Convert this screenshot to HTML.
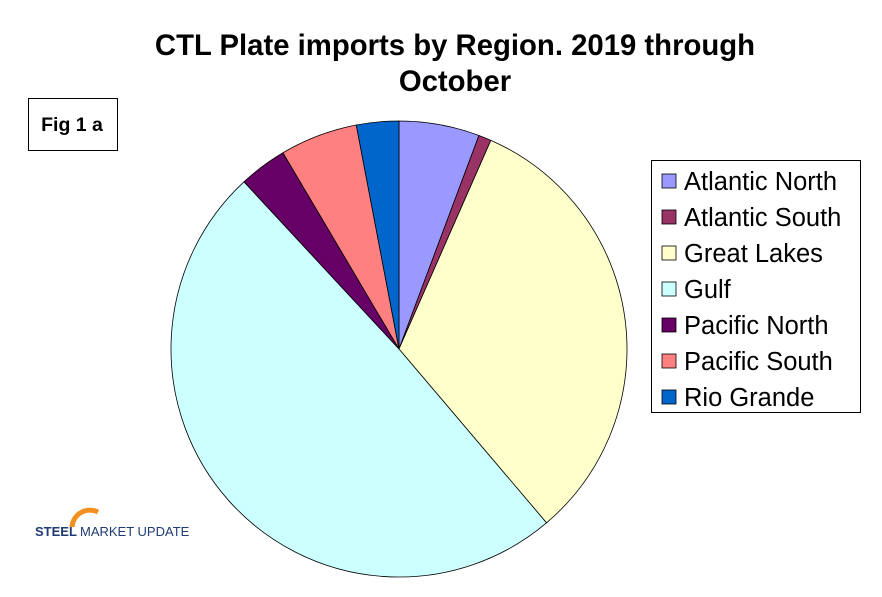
<!DOCTYPE html>
<html><head><meta charset="utf-8"><style>
body{margin:0;background:#fff;width:882px;height:592px;overflow:hidden;font-family:"Liberation Sans",Arial,sans-serif}
</style></head><body>
<svg width="882" height="592" viewBox="0 0 882 592">
<text x="455" y="55" text-anchor="middle" font-size="29.3" font-weight="bold">CTL Plate imports by Region. 2019 through</text>
<text x="455" y="91" text-anchor="middle" font-size="29.3" font-weight="bold">October</text>
<rect x="28.5" y="98.5" width="89" height="52" fill="#fff" stroke="#000"/>
<text x="72" y="131" text-anchor="middle" font-size="19.5" font-weight="bold">Fig 1 a</text>
<g id="pie"></g>
<rect x="651.5" y="160.5" width="209" height="252" fill="#fff" stroke="#000"/>
<g id="legend"></g>
<g>
<path d="M72 527 A18 18 0 0 1 98 512" fill="none" stroke="#f39020" stroke-width="5"/>
<text x="35" y="536" font-size="13" font-weight="bold" fill="#1f3b73">STEEL</text>
<text x="80" y="536" font-size="13" fill="#1f3b73">MARKET UPDATE</text>
</g>
</svg>
<script>
const categories=["Atlantic North","Atlantic South","Great Lakes","Gulf","Pacific North","Pacific South","Rio Grande"];
const values=[5.7,0.9,32.2,49.3,3.4,5.5,3.0];
const colors=["#9999ff","#993366","#ffffcc","#ccffff","#660066","#ff8080","#0066cc"];
const NS="http://www.w3.org/2000/svg";
const cx=399,cy=349,r=228;
const total=values.reduce((a,b)=>a+b,0);
const pie=document.getElementById('pie');
let a0=0;
function pt(a){return [cx+r*Math.sin(a),cy-r*Math.cos(a)];}
values.forEach((v,i)=>{
  const a1=a0+v/total*2*Math.PI;
  const p0=pt(a0),p1=pt(a1);
  const path=document.createElementNS(NS,'path');
  path.setAttribute('d',`M${cx},${cy} L${p0[0]},${p0[1]} A${r},${r} 0 ${a1-a0>Math.PI?1:0} 1 ${p1[0]},${p1[1]} Z`);
  path.setAttribute('fill',colors[i]);path.setAttribute('stroke','#000');path.setAttribute('stroke-width','0.8');
  
  
  pie.appendChild(path);
  a0=a1;
});
const leg=document.getElementById('legend');
categories.forEach((c,i)=>{
  const y=181+i*36;
  const g=document.createElementNS(NS,'g');
  
  
  const s=document.createElementNS(NS,'rect');
  s.setAttribute('x',662);s.setAttribute('y',y-7);s.setAttribute('width',14);s.setAttribute('height',14);
  s.setAttribute('fill',colors[i]);s.setAttribute('stroke','#000');s.setAttribute('stroke-width','0.8');
  const t=document.createElementNS(NS,'text');
  t.setAttribute('x',684);t.setAttribute('y',y+9);t.setAttribute('font-size','25.5');t.textContent=c;
  g.appendChild(s);g.appendChild(t);leg.appendChild(g);
});
</script>
</body></html>
